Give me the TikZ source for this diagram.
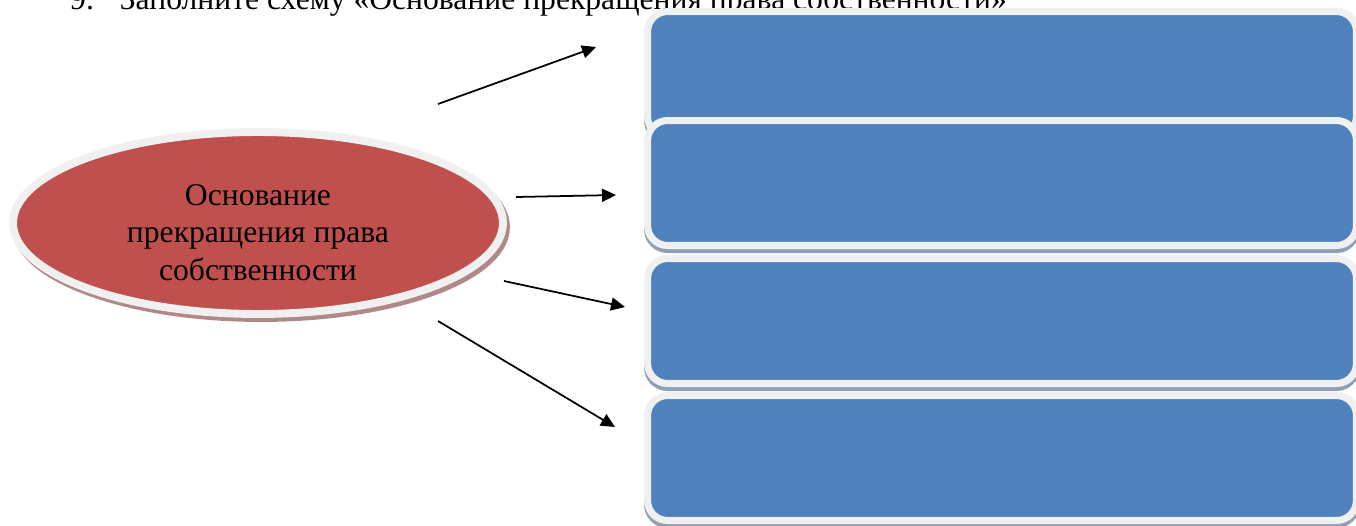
\documentclass[tikz,border=0pt]{standalone}
\usepackage{fontspec}
\setmainfont{Liberation Serif}
\usetikzlibrary{shapes.geometric,shadows,arrows.meta}
\definecolor{ovalred}{RGB}{192,80,77}
\definecolor{boxblue}{RGB}{79,129,189}
\definecolor{rimgray}{RGB}{240,240,240}
\definecolor{ovalshadow}{RGB}{176,136,136}
\definecolor{boxshadow}{RGB}{143,160,182}
\begin{document}
\begin{tikzpicture}[x=0.02cm,y=-0.02cm,
  oval/.style={ellipse,fill=ovalred,draw=rimgray,line width=4.5pt,minimum width=9.8cm,minimum height=3.64cm,align=center,font=\fontsize{18}{21.5}\selectfont,
    drop shadow={shadow xshift=0.06cm,shadow yshift=-0.08cm,fill=ovalshadow,draw=ovalshadow,line width=4.5pt,opacity=1}},
  card/.style={rectangle,rounded corners=0.4cm,fill=boxblue,draw=rimgray,line width=4pt,minimum width=14.18cm,minimum height=2.5cm,
    drop shadow={shadow xshift=0cm,shadow yshift=-0.08cm,fill=boxshadow,draw=boxshadow,line width=4pt,opacity=1}},
  arr/.style={-{Triangle[length=0.28cm,width=0.26cm]},line width=1pt}]
\useasboundingbox (0,0) rectangle (1356,525);
\node[anchor=base west,font=\fontsize{18}{21.5}\selectfont] (title) at (64,9) {9.\hspace{0.52cm}Заполните схему «Основание прекращения права собственности»};
\node[card] (box1) at (1002,74) {};
\node[card] (box2) at (1002,183) {};
\node[card] (box3) at (1002,321) {};
\node[card] (box4) at (1002,458) {};
\node[oval] (osn) at (258,223) {\rule{0pt}{0.8cm}Основание\\прекращения права\\собственности};
\coordinate (from1) at (438,104); \coordinate (to1) at (596,47);
\coordinate (from2) at (516,197); \coordinate (to2) at (616,195);
\coordinate (from3) at (504,281); \coordinate (to3) at (625,307);
\coordinate (from4) at (438,321); \coordinate (to4) at (615,427);
\draw[arr] (from1)--(to1);
\draw[arr] (from2)--(to2);
\draw[arr] (from3)--(to3);
\draw[arr] (from4)--(to4);
\end{tikzpicture}
\end{document}
